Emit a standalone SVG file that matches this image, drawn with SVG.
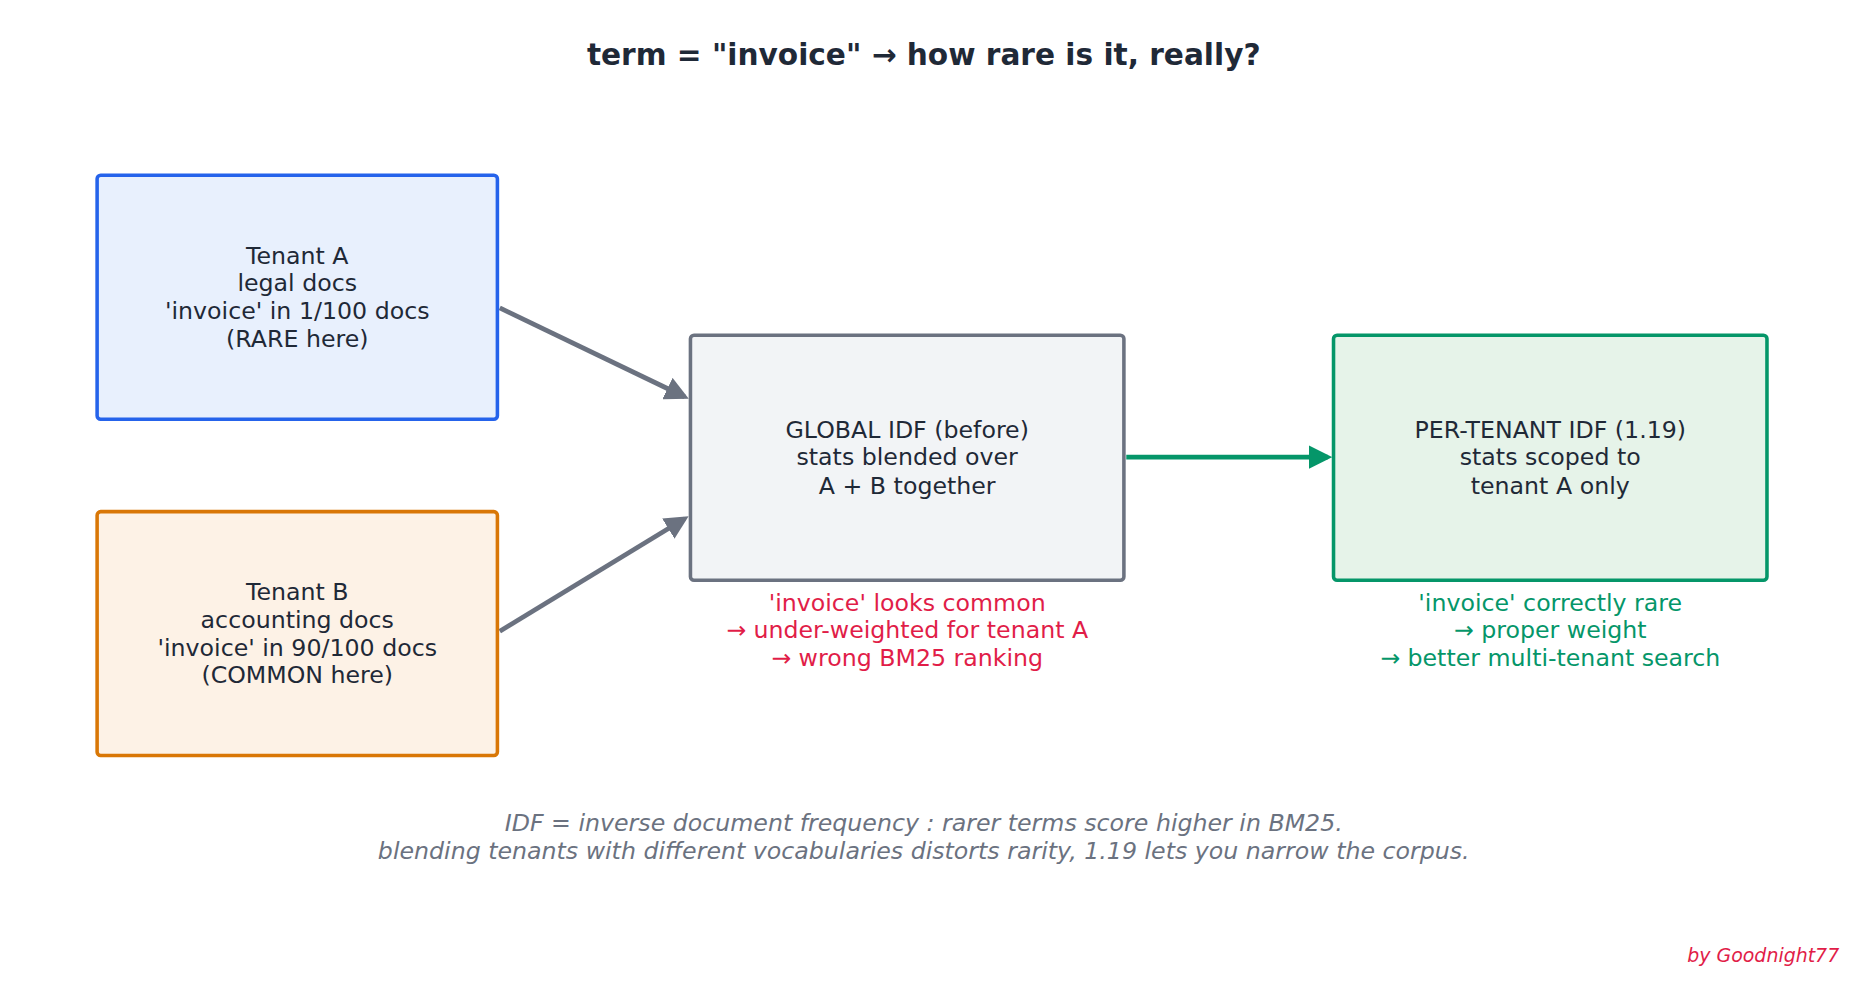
<svg xmlns="http://www.w3.org/2000/svg" width="1857" height="982" viewBox="0 0 1857 982">
<defs>
<style>
text{font-family:"DejaVu Sans",sans-serif;text-anchor:middle}
.t{font-size:20px;fill:#1f2937}
.box{stroke-width:3}
.red{font-size:20px;fill:#e11d48}
.grn{font-size:20px;fill:#059669}
.foot{font-size:20px;fill:#6b7280;font-style:italic}
</style>
<marker id="ag" viewBox="0 0 10 10" refX="8" refY="5" markerWidth="5" markerHeight="5" orient="auto"><path d="M0,0L10,5L0,10z" fill="#6b7280"/></marker>
<marker id="agr" viewBox="0 0 10 10" refX="8" refY="5" markerWidth="5" markerHeight="5" orient="auto"><path d="M0,0L10,5L0,10z" fill="#059669"/></marker>
</defs>
<rect width="1857" height="982" fill="#fff"/>
<g transform="scale(1.1843)">
<text x="780" y="55" style="font-size:25px;font-weight:bold;fill:#1f2937">term = "invoice"   →   how rare is it, really?</text>
<g id="connectors" stroke-width="4" fill="none">
<line x1="422" y1="260" x2="578" y2="335" stroke="#6b7280" marker-end="url(#ag)"/>
<line x1="422" y1="533" x2="578" y2="438" stroke="#6b7280" marker-end="url(#ag)"/>
<line x1="951" y1="386" x2="1121" y2="386" stroke="#059669" marker-end="url(#agr)"/>
</g>
<g id="tenantA"><rect class="box" x="82" y="148" width="338" height="206" rx="3" fill="#e8f0fd" stroke="#2563eb"/>
<text class="t" x="251" y="223">Tenant A</text><text class="t" x="251" y="246">legal docs</text><text class="t" x="251" y="269">'invoice' in 1/100 docs</text><text class="t" x="251" y="293">(RARE here)</text></g>
<g id="tenantB"><rect class="box" x="82" y="432" width="338" height="206" rx="3" fill="#fdf2e6" stroke="#d97706"/>
<text class="t" x="251" y="507">Tenant B</text><text class="t" x="251" y="530">accounting docs</text><text class="t" x="251" y="554">'invoice' in 90/100 docs</text><text class="t" x="251" y="577">(COMMON here)</text></g>
<g id="global"><rect class="box" x="583" y="283" width="366" height="207" rx="3" fill="#f2f4f6" stroke="#6b7280"/>
<text class="t" x="766" y="370">GLOBAL IDF (before)</text><text class="t" x="766" y="393">stats blended over</text><text class="t" x="766" y="417">A + B together</text></g>
<g id="pertenant"><rect class="box" x="1126" y="283" width="366" height="207" rx="3" fill="#e6f3e9" stroke="#059669"/>
<text class="t" x="1309" y="370">PER-TENANT IDF (1.19)</text><text class="t" x="1309" y="393">stats scoped to</text><text class="t" x="1309" y="417">tenant A only</text></g>
<g id="notes">
<text class="red" x="766" y="516">'invoice' looks common</text><text class="red" x="766" y="539">→ under-weighted for tenant A</text><text class="red" x="766" y="562">→ wrong BM25 ranking</text>
<text class="grn" x="1309" y="516">'invoice' correctly rare</text><text class="grn" x="1309" y="539">→ proper weight</text><text class="grn" x="1309" y="562">→ better multi-tenant search</text>
<text class="foot" x="780" y="702">IDF = inverse document frequency : rarer terms score higher in BM25.</text>
<text class="foot" x="780" y="725">blending tenants with different vocabularies distorts rarity, 1.19 lets you narrow the corpus.</text>
<text x="1553" y="812" style="font-size:16px;font-style:italic;fill:#e11d48;text-anchor:end">by Goodnight77</text>
</g>
</g>
</svg>
